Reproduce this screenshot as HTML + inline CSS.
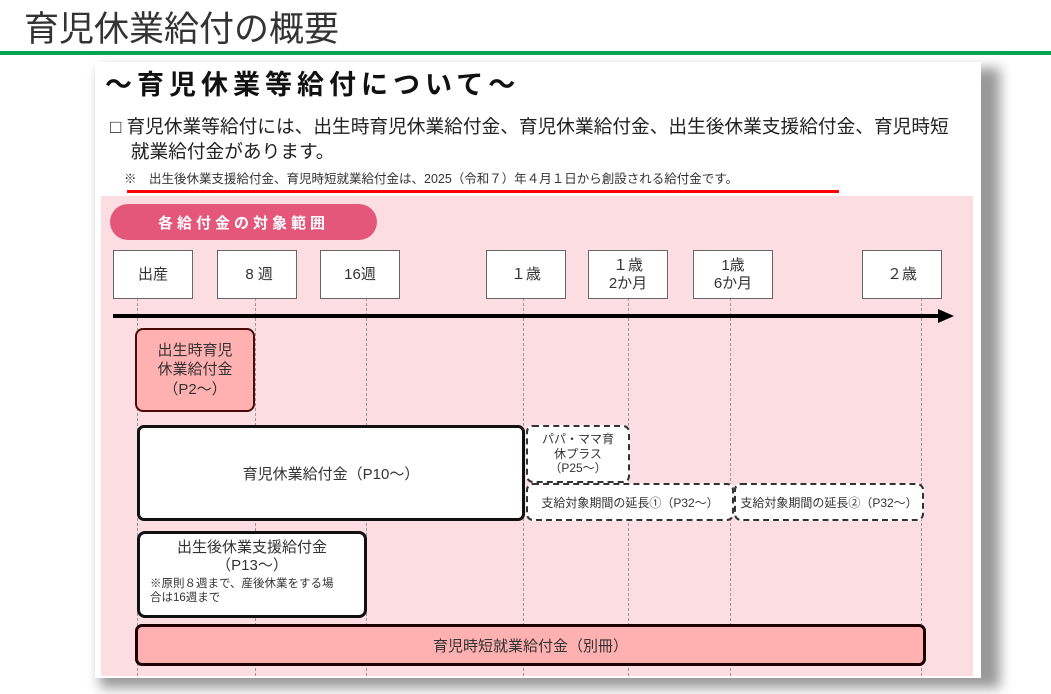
<!DOCTYPE html>
<html><head><meta charset="utf-8"><style>
*{margin:0;padding:0;box-sizing:border-box}
body{width:1051px;height:694px;position:relative;background:#fff;font-family:"Liberation Sans","Noto Sans CJK JP",sans-serif;overflow:hidden;color:#222}
.a{position:absolute}
.hb{position:absolute;background:#fff;border:1.5px solid #666;top:250px;height:49px;width:80px;font-size:15px;text-align:center;color:#333;display:flex;align-items:center;justify-content:center;line-height:1.2}
.vl{position:absolute;top:298px;height:378px;border-left:1px dashed #999}
.box{position:absolute;display:flex;align-items:center;justify-content:center;text-align:center;color:#333}
</style></head><body>
<div class="a" style="left:24px;top:1px;font-size:35px;color:#333">育児休業給付の概要</div>
<div class="a" style="left:0;top:51px;width:1051px;height:4px;background:#00a64f"></div>
<div class="a" style="left:100px;top:68px;width:900px;height:620px;background:#999;filter:blur(6px)"></div>
<div class="a" style="left:95px;top:62px;width:886px;height:616px;background:#fff"></div>
<div class="a" style="left:105px;top:63px;font-size:27px;font-weight:bold;color:#111;letter-spacing:5px">～育児休業等給付について～</div>
<div class="a" style="left:110px;top:114px;font-size:18.7px;color:#222;line-height:25px;width:870px;white-space:nowrap">
<span style="font-weight:bold">□</span> 育児休業等給付には、出生時育児休業給付金、育児休業給付金、出生後休業支援給付金、育児時短<br>&nbsp;&nbsp;&nbsp;&nbsp;就業給付金があります。</div>
<div class="a" style="left:124px;top:168px;font-size:12.5px;color:#333;white-space:nowrap">※　出生後休業支援給付金、育児時短就業給付金は、2025（令和７）年４月１日から創設される給付金です。</div>
<div class="a" style="left:127px;top:190px;width:712px;height:3px;background:#f00"></div>
<div class="a" style="left:101px;top:196px;width:872px;height:480px;background:#fcdde1"></div>
<div class="a" style="left:110px;top:204px;width:267px;height:36px;border-radius:18px;background:#e4577b;color:#fff;font-size:15px;letter-spacing:4px;display:flex;align-items:center;justify-content:center;font-weight:bold">各給付金の対象範囲</div>
<div class="vl" style="left:137px"></div><div class="vl" style="left:255px"></div><div class="vl" style="left:366px"></div><div class="vl" style="left:523px"></div><div class="vl" style="left:628px"></div><div class="vl" style="left:730px"></div><div class="vl" style="left:921px"></div>
<div class="hb" style="left:113px">出産</div>
<div class="hb" style="left:217px">&nbsp;8 週</div>
<div class="hb" style="left:320px">16週</div>
<div class="hb" style="left:486px">１歳</div>
<div class="hb" style="left:588px">１歳<br>2か月</div>
<div class="hb" style="left:693px">1歳<br>6か月</div>
<div class="hb" style="left:862px">２歳</div>
<div class="a" style="left:113px;top:314px;width:830px;height:4px;background:#000"></div>
<div class="a" style="left:938px;top:309px;width:0;height:0;border-left:16px solid #000;border-top:7px solid transparent;border-bottom:7px solid transparent"></div>
<div class="box" style="left:135px;top:328px;width:120px;height:84px;background:#ffb0b0;border:2.5px solid #4a0a0a;border-radius:8px;font-size:15px;line-height:1.3">出生時育児<br>休業給付金<br>（P2～）</div>
<div class="box" style="left:137px;top:425px;width:388px;height:96px;background:#fff;border:3px solid #111;border-radius:7px;font-size:15px">育児休業給付金（P10～）</div>
<div class="box" style="left:526px;top:425px;width:104px;height:58px;background:#fff;border:2px dashed #333;border-radius:7px;font-size:12px;line-height:1.2">パパ・ママ育<br>休プラス<br>（P25～）</div>
<div class="box" style="left:526px;top:483px;width:208px;height:38px;background:#fff;border:2px dashed #333;border-radius:7px;font-size:12px">支給対象期間の延長①（P32～）</div>
<div class="box" style="left:734px;top:483px;width:190px;height:38px;background:#fff;border:2px dashed #333;border-radius:7px;font-size:12px">支給対象期間の延長②（P32～）</div>
<div class="a" style="left:137px;top:531px;width:230px;height:87px;background:#fff;border:3px solid #111;border-radius:8px;text-align:center;color:#333">
<div style="font-size:15px;line-height:18px;margin-top:5px">出生後休業支援給付金<br>（P13～）</div>
<div style="font-size:11.5px;text-align:left;padding-left:10px;line-height:14px;margin-top:2px">※原則８週まで、産後休業をする場<br>合は16週まで</div></div>
<div class="box" style="left:135px;top:624px;width:791px;height:42px;background:#ffb0b0;border:3px solid #1a0000;border-radius:7px;font-size:15px">育児時短就業給付金（別冊）</div>
</body></html>
